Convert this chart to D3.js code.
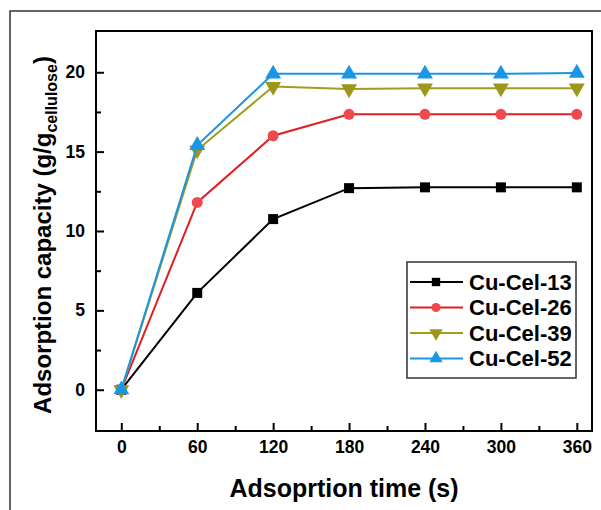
<!DOCTYPE html>
<html lang="en">
<head>
  <meta charset="UTF-8" />
  <title>Adsorption capacity vs time</title>
  <script src="https://d3js.org/d3.v7.min.js"></script>
  <style>
    body { margin: 0; background: #fff; }
    svg { display: block; font-family: Arial, "Liberation Sans", sans-serif; }
    .tick text { font-weight: bold; font-size: 17.5px; fill: #000; }
    .axis path { display: none; }
    .axis line { stroke: #000; stroke-width: 2; }
  </style>
</head>
<body>
  <svg></svg>
  <script>
    // data
    const times = [0, 60, 120, 180, 240, 300, 360];
    const cuCel13 = [0, 6.1, 10.75, 12.7, 12.75, 12.75, 12.75];
    const cuCel26 = [0, 11.8, 16.0, 17.35, 17.35, 17.35, 17.35];
    const cuCel39 = [0, 15.1, 19.1, 18.95, 19.0, 19.0, 19.0];
    const cuCel52 = [0, 15.4, 19.9, 19.9, 19.9, 19.9, 19.95];
    const seriesNames = ["Cu-Cel-13", "Cu-Cel-26", "Cu-Cel-39", "Cu-Cel-52"];
    const xTicks = [0, 60, 120, 180, 240, 300, 360];
    const yTicks = [0, 5, 10, 15, 20];

    const width = 601, height = 510;
    const plot = { left: 96, top: 31, right: 592, bottom: 431 };

    const svg = d3.select("svg").attr("width", width).attr("height", height);

    // outer frame (only top and left sides fall inside the picture)
    svg.append("rect")
      .attr("x", 10).attr("y", 11)
      .attr("width", 700).attr("height", 700)
      .attr("fill", "none").attr("stroke", "#333").attr("stroke-width", 1.5);

    const x = d3.scaleLinear().domain([-20, 372]).range([plot.left, plot.right]);
    const y = d3.scaleLinear().domain([-2.6, 22.6]).range([plot.bottom, plot.top]);

    // axes, ticks inside
    svg.append("g").attr("class", "axis")
      .attr("transform", `translate(0,${plot.bottom})`)
      .call(d3.axisBottom(x).tickValues(xTicks).tickSize(-8).tickPadding(10));
    svg.append("g").attr("class", "axis")
      .attr("transform", `translate(0,${plot.bottom})`)
      .call(d3.axisBottom(x).tickValues([30, 90, 150, 210, 270, 330]).tickSize(-5).tickFormat(""));
    svg.append("g").attr("class", "axis")
      .attr("transform", `translate(${plot.left},0)`)
      .call(d3.axisLeft(y).tickValues(yTicks).tickSize(-8).tickPadding(11));
    svg.append("g").attr("class", "axis")
      .attr("transform", `translate(${plot.left},0)`)
      .call(d3.axisLeft(y).tickValues([2.5, 7.5, 12.5, 17.5]).tickSize(-5).tickFormat(""));

    svg.append("rect")
      .attr("x", plot.left).attr("y", plot.top)
      .attr("width", plot.right - plot.left).attr("height", plot.bottom - plot.top)
      .attr("fill", "none").attr("stroke", "#000").attr("stroke-width", 2);

    // axis titles
    svg.append("text")
      .attr("x", (plot.left + plot.right) / 2).attr("y", 497)
      .attr("text-anchor", "middle")
      .style("font-size", "25px").style("font-weight", "bold")
      .text("Adsoprtion time (s)");

    const yTitle = svg.append("text")
      .attr("transform", `translate(51,${(plot.top + plot.bottom) / 2 + 4}) rotate(-90)`)
      .attr("text-anchor", "middle")
      .style("font-size", "24px").style("font-weight", "bold");
    yTitle.append("tspan").text("Adsorption capacity (g/g");
    yTitle.append("tspan").attr("dy", 6).style("font-size", "16px").text("cellulose");
    yTitle.append("tspan").attr("dy", -6).text(")");

    const series = [
      { name: seriesNames[0], values: cuCel13, line: "#000000", fill: "#000000", shape: "square" },
      { name: seriesNames[1], values: cuCel26, line: "#e02020", fill: "#f04a4e", shape: "circle" },
      { name: seriesNames[2], values: cuCel39, line: "#a39d1c", fill: "#9c961a", shape: "down" },
      { name: seriesNames[3], values: cuCel52, line: "#1a96e0", fill: "#1a96e6", shape: "up" }
    ];

    const symbolFor = (shape, k) => d3.symbol()
      .type(shape === "square" ? d3.symbolSquare : shape === "circle" ? d3.symbolCircle : d3.symbolTriangle)
      .size((shape === "square" ? 100 : shape === "circle" ? 95 : 110) * k)();
    const rot = s => (s === "down" ? " rotate(180)" : "");

    const line = d3.line().x(d => x(d[0])).y(d => y(d[1]));

    series.forEach(s => {
      const pts = times.map((t, i) => [t, s.values[i]]);
      svg.append("path")
        .attr("d", line(pts))
        .attr("fill", "none").attr("stroke", s.line).attr("stroke-width", 2);
      svg.selectAll(null).data(pts).enter().append("path")
        .attr("d", symbolFor(s.shape, 1))
        .attr("transform", d => `translate(${x(d[0])},${y(d[1])})${rot(s.shape)}`)
        .attr("fill", s.fill);
    });

    // legend
    const legend = svg.append("g").attr("transform", "translate(407,262)");
    legend.append("rect")
      .attr("width", 169).attr("height", 116)
      .attr("fill", "#fff").attr("stroke", "#333").attr("stroke-width", 1.5);
    series.forEach((s, i) => {
      const row = legend.append("g").attr("transform", `translate(0,${20 + i * 25.5})`);
      row.append("line").attr("x1", 3).attr("x2", 56)
        .attr("stroke", s.line).attr("stroke-width", 2);
      row.append("path").attr("d", symbolFor(s.shape, 0.7))
        .attr("transform", `translate(29,0)${rot(s.shape)}`).attr("fill", s.fill);
      row.append("text").attr("x", 62).attr("dy", "0.36em")
        .style("font-size", "22px").style("font-weight", "bold")
        .text(s.name);
    });
  </script>
</body>
</html>
